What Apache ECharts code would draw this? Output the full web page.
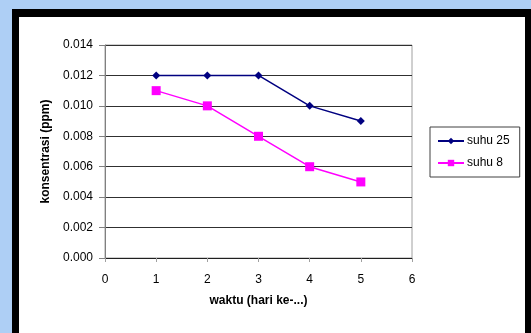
<!DOCTYPE html>
<html>
<head>
<meta charset="utf-8">
<script src="https://cdn.jsdelivr.net/npm/echarts@6/dist/echarts.min.js"></script>
<style>
html,body{margin:0;padding:0;width:531px;height:333px;overflow:hidden;background:#aecff5;}
#frame{position:absolute;left:12px;top:9px;width:519px;height:340px;background:#000;}
#inner{position:absolute;left:19px;top:17px;width:506px;height:330px;background:#fff;}
#chart{position:absolute;left:0;top:0;width:531px;height:333px;}
</style>
</head>
<body>
<div id="frame"></div>
<div id="inner"></div>
<div id="chart"></div>
<script>
const days = [1, 2, 3, 4, 5];
const suhu25 = [0.012, 0.012, 0.012, 0.010, 0.009];
const suhu8 = [0.011, 0.010, 0.008, 0.006, 0.005];
const seriesNames = ['suhu 25', 'suhu 8'];
const xTitle = 'waktu (hari ke-...)';
const yTitle = 'konsentrasi (ppm)';

const font = 'Liberation Sans, Arial, sans-serif';
const chart = echarts.init(document.getElementById('chart'));
chart.setOption({
  animation: false,
  backgroundColor: 'transparent',
  textStyle: {fontFamily: font},
  grid: {left: 105, top: 45, width: 307, height: 213, show: true, borderColor: '#a0a0a0', borderWidth: 1, backgroundColor: 'transparent'},
  legend: {
    orient: 'vertical', left: 430, top: 127,
    padding: [8, 10, 8, 7], itemGap: 10,
    borderColor: '#404040', borderWidth: 1,
    itemWidth: 26, itemHeight: 8,
    textStyle: {fontSize: 12, color: '#000', fontFamily: font, padding: [0, 0, 0, -2]},
    data: seriesNames
  },
  xAxis: {
    type: 'value', min: 0, max: 6, interval: 1,
    name: xTitle, nameLocation: 'middle', nameGap: 37,
    nameTextStyle: {fontSize: 12, fontWeight: 'bold', color: '#000'},
    axisLine: {show: true, lineStyle: {color: '#202020', width: 1}},
    axisTick: {show: true, inside: false, length: 4, lineStyle: {color: '#a0a0a0'}},
    axisLabel: {fontSize: 12, color: '#000', margin: 16},
    splitLine: {show: false}
  },
  yAxis: {
    type: 'value', min: 0, max: 0.014, interval: 0.002,
    name: yTitle, nameLocation: 'middle', nameGap: 51,
    nameTextStyle: {fontSize: 12, fontWeight: 'bold', color: '#000'},
    axisLine: {show: true, lineStyle: {color: '#808080'}},
    axisTick: {show: true, inside: false, length: 6, lineStyle: {color: '#808080'}},
    axisLabel: {fontSize: 12, color: '#000', margin: 12, formatter: v => v.toFixed(3)},
    splitLine: {show: true, lineStyle: {color: '#303030', width: 1}}
  },
  series: [
    {
      name: seriesNames[0], type: 'line',
      data: days.map((d, i) => [d, suhu25[i]]),
      symbol: 'diamond', symbolSize: 8,
      lineStyle: {color: '#000080', width: 1.5},
      itemStyle: {color: '#000080'}
    },
    {
      name: seriesNames[1], type: 'line',
      data: days.map((d, i) => [d, suhu8[i]]),
      symbol: 'rect', symbolSize: 9,
      lineStyle: {color: '#ff00ff', width: 1.5},
      itemStyle: {color: '#ff00ff'}
    }
  ]
});
</script>
</body>
</html>
